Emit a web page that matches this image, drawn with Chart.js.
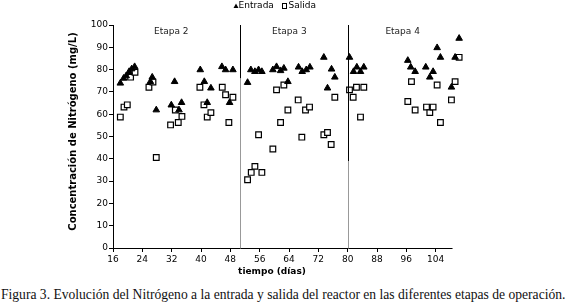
<!DOCTYPE html>
<html>
<head>
<meta charset="utf-8">
<script src="https://cdn.jsdelivr.net/npm/chart.js@4"></script>
<style>
  body { margin: 0; background: #fff; }
  #wrap { position: absolute; left: 0; top: 0; width: 569px; height: 286px; }
  #pie { position: absolute; left: 1px; top: 287px; white-space: nowrap; font-family: "Liberation Serif"; font-size: 12px; color: #111; }
</style>
</head>
<body>
<div id="wrap"><canvas id="grafico"></canvas></div>
<div id="pie">Figura 3. Evolución del Nitrógeno a la entrada y salida del reactor en las diferentes etapas de operación.</div>
<script>
var diasEntrada = [18.0, 18.9, 19.6, 20.4, 21.1, 21.9, 26.2, 26.7, 27.8, 31.9, 32.8, 34.0, 34.7, 39.8, 40.9, 41.7, 42.7, 45.7, 46.7, 47.8, 48.7,
  52.7, 53.6, 54.7, 55.7, 56.6, 59.6, 60.6, 61.7, 62.6, 63.7, 66.6, 67.6, 68.7, 69.7, 73.5, 74.5, 75.6, 76.5,
  80.5, 81.6, 82.5, 83.5, 84.4, 96.4, 97.2, 98.4, 101.3, 102.4, 103.3, 104.4, 105.3, 108.3, 109.3, 110.4];
var entrada = [73.9, 76.1, 77.2, 79.1, 80.3, 81.3, 74.6, 76.6, 61.9, 64.1, 74.6, 61.9, 65.2, 79.9, 74.6, 65.2, 71.7, 81.3, 79.9, 65.2, 79.9,
  74.2, 79.9, 79.1, 79.9, 79.1, 79.9, 81.3, 79.5, 80.6, 74.6, 81.1, 79.1, 79.9, 81.1, 85.5, 71.7, 80.2, 76.6,
  85.5, 79.1, 81.1, 79.1, 81.1, 84.1, 81.1, 79.1, 81.1, 76.6, 79.1, 89.8, 85.5, 72.1, 85.5, 94.0];

var diasSalida = [18.0, 19.0, 19.9, 20.8, 22.0, 25.8, 26.9, 27.8, 31.7, 33.0, 33.8, 34.8, 39.7, 40.8, 41.7, 42.7, 45.8, 46.7, 47.6, 48.7,
  52.7, 53.7, 54.7, 55.7, 56.6, 59.6, 60.6, 61.7, 62.6, 63.7, 66.5, 67.5, 68.5, 69.6, 73.5, 74.5, 75.5, 76.5,
  80.5, 81.5, 82.4, 83.5, 84.4, 96.4, 97.4, 98.4, 101.5, 102.4, 103.3, 104.4, 105.3, 108.3, 109.3, 110.4];
var salida = [58.7, 63.2, 64.2, 76.6, 78.8, 72.1, 74.4, 40.6, 55.2, 61.9, 56.3, 59.0, 72.1, 64.2, 58.7, 60.7, 72.1, 68.7, 56.3, 67.6,
  30.6, 33.9, 36.6, 50.8, 33.9, 44.4, 70.9, 56.3, 73.1, 61.9, 66.4, 49.7, 61.9, 63.2, 50.8, 51.8, 46.4, 67.6,
  70.9, 67.6, 72.1, 58.7, 72.1, 65.7, 74.6, 61.9, 63.2, 60.7, 63.2, 73.1, 56.3, 66.4, 74.6, 85.5];

// cambios de etapa (dias) y rotulos
var cambiosEtapa = [50.7, 80];
var etapas = ['Etapa 2', 'Etapa 3', 'Etapa 4'];
var posEtapas = [31.9, 64.1, 95.0];
var ultimoDia = 108.6;

function puntos(xs, ys) {
  return xs.map(function (d, i) { return { x: d, y: ys[i] }; });
}

var fuente = 'DejaVu Sans';

// lineas de etapa, rotulos, leyenda y titulos de ejes
var anotaciones = {
  id: 'anotaciones',
  afterDraw: function (chart) {
    var ctx = chart.ctx, x = chart.scales.x, y = chart.scales.y;
    ctx.save();
    ctx.lineWidth = 1;

    // eje x
    var y0 = Math.round(y.getPixelForValue(0)) + 0.5;
    ctx.strokeStyle = '#000';
    ctx.beginPath();
    ctx.moveTo(x.getPixelForValue(16), y0);
    ctx.lineTo(x.getPixelForValue(ultimoDia), y0);
    ctx.stroke();

    // lineas verticales
    var cortes = [76, 39];
    cambiosEtapa.forEach(function (d, i) {
      var px = Math.round(x.getPixelForValue(d)) + 0.5;
      ctx.strokeStyle = '#000';
      ctx.beginPath();
      ctx.moveTo(px, y.getPixelForValue(100));
      ctx.lineTo(px, y.getPixelForValue(cortes[i]));
      ctx.stroke();
      ctx.strokeStyle = '#999';
      ctx.beginPath();
      ctx.moveTo(px, y.getPixelForValue(cortes[i]));
      ctx.lineTo(px, y0);
      ctx.stroke();
    });

    // rotulos de etapa
    ctx.fillStyle = '#222';
    ctx.font = '9px "' + fuente + '"';
    ctx.textAlign = 'center';
    ctx.textBaseline = 'middle';
    etapas.forEach(function (t, i) {
      ctx.fillText(t, x.getPixelForValue(posEtapas[i]), y.getPixelForValue(96.9));
    });

    // leyenda
    var ds = chart.data.datasets;
    ctx.textAlign = 'left';
    ctx.fillStyle = '#000';
    ctx.beginPath();
    ctx.moveTo(236, 3.5);
    ctx.lineTo(238.5, 8);
    ctx.lineTo(233.5, 8);
    ctx.closePath();
    ctx.fill();
    ctx.fillText(ds[0].label, 238.5, 6);
    ctx.strokeStyle = '#000';
    ctx.strokeRect(282.5, 3.5, 4, 5);
    ctx.fillText(ds[1].label, 288.5, 6);

    // titulos de ejes
    ctx.font = 'bold 10px "' + fuente + '"';
    ctx.save();
    ctx.translate(73, 131.5);
    ctx.rotate(-Math.PI / 2);
    ctx.textAlign = 'center';
    ctx.fillText('Concentración de Nitrógeno (mg/L)', 0, 0);
    ctx.restore();
    ctx.font = 'bold 9px "' + fuente + '"';
    ctx.textAlign = 'center';
    ctx.fillText('tiempo (días)', 272, 272);
    ctx.restore();
  }
};

var ctx = document.getElementById('grafico').getContext('2d');
var grafico = new Chart(ctx, {
  type: 'scatter',
  data: {
    datasets: [{
      label: 'Entrada',
      data: puntos(diasEntrada, entrada),
      pointStyle: 'triangle',
      radius: 3.8,
      backgroundColor: '#000',
      borderColor: '#000',
      borderWidth: 1
    }, {
      label: 'Salida',
      data: puntos(diasSalida, salida),
      pointStyle: 'rect',
      radius: 4,
      backgroundColor: '#fff',
      borderColor: '#000',
      borderWidth: 1.2
    }]
  },
  options: {
    responsive: true,
    maintainAspectRatio: false,
    animation: false,
    layout: { padding: { left: 63, right: 104, top: 25, bottom: 3 } },
    plugins: {
      legend: { display: false },
      tooltip: { enabled: false }
    },
    scales: {
      x: {
        type: 'linear',
        min: 16,
        max: 112,
        afterFit: function (s) { s.height = 35; },
        afterBuildTicks: function (s) { s.ticks = s.ticks.filter(function (t) { return t.value <= 104; }); },
        ticks: { stepSize: 8, color: '#000', padding: 2, maxRotation: 0, font: { family: fuente, size: 9 } },
        grid: { drawOnChartArea: false, tickLength: 4, color: '#000' },
        border: { display: false }
      },
      y: {
        min: 0,
        max: 100,
        afterFit: function (s) { s.width = 50; },
        ticks: { stepSize: 10, color: '#000', padding: 1, font: { family: fuente, size: 9 } },
        grid: { drawOnChartArea: false, tickLength: 4, color: '#000' },
        border: { display: true, color: '#000' }
      }
    }
  },
  plugins: [anotaciones]
});

// ajustar el pie de figura al ancho del original
var pie = document.getElementById('pie');
pie.style.fontSize = (12 * 565 / pie.offsetWidth) + 'px';
</script>
</body>
</html>
